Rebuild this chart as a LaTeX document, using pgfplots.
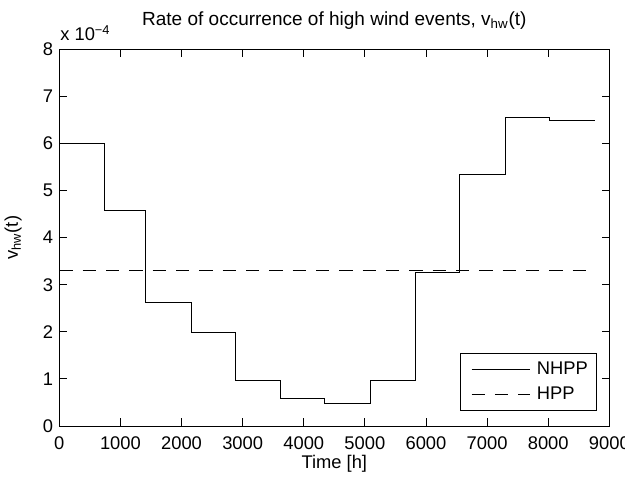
\documentclass[border=0pt]{standalone}
\usepackage{pgfplots}
\pgfplotsset{compat=1.18}
\usepackage{fontspec}
\setmainfont{Liberation Sans}
\begin{document}
\fontsize{11}{13}\selectfont
\begin{tikzpicture}
\begin{axis}[
  name=ax,
  scale only axis,
  width=330pt, height=226pt,
  xmin=0, xmax=9000, ymin=0, ymax=8,
  xtick={0,1000,...,9000},
  ytick={0,1,...,8},
  tick align=inside,
  major tick length=4.5pt,
  /pgf/number format/assume math mode=true,
  /pgf/number format/set thousands separator={},
  scaled x ticks=false,
  tick label style={font=\fontsize{11}{13}\selectfont},
  xticklabel style={anchor=base, yshift=-14pt},
  yticklabel style={inner sep=3.6pt},
  xlabel={Time [h]},
  ylabel={v\textsubscript{hw}(t)},
  xlabel style={at={(axis description cs:0.5,0)}, anchor=base, inner sep=0pt, yshift=-25.4pt},
  ylabel style={at={(axis description cs:-0.0752,0.5)}, anchor=base, inner sep=0pt},
  title={Rate of occurrence of high wind events, v\textsubscript{hw}(t)},
  title style={at={(axis description cs:0.5,1)}, anchor=base, inner sep=0pt, yshift=8.5pt, font=\fontsize{11.4}{13}\selectfont},
  axis line style={black, line width=0.5pt},
  every tick/.style={black, line width=0.5pt},
  legend style={at={(rel axis cs:0.977,0.04)}, anchor=south east,
    draw=black, line width=0.5pt, font=\fontsize{11}{13}\selectfont,
    inner xsep=5pt, inner ysep=5pt, row sep=6pt,
    nodes={inner sep=0pt}},
  legend cell align=left,
  legend image code/.code={\draw[#1] (1.6pt,0pt) -- (36.6pt,0pt); \path (0pt,0pt) (40.6pt,0pt);},
]
\addplot[const plot, black, line width=0.5pt] coordinates {
  (0,6.00) (744,4.58) (1416,2.62) (2160,1.98) (2880,0.97) (3624,0.59)
  (4344,0.48) (5088,0.96) (5832,3.26) (6552,5.34) (7296,6.55) (8016,6.48)
  (8760,6.48)
};
\addlegendentry{NHPP}
\addplot[black, line width=0.5pt, dash pattern=on 8pt off 6pt] coordinates {
  (0,3.30) (8760,3.30)
};
\addlegendentry{HPP}
\end{axis}
\node[anchor=base west, inner sep=0pt] at ([yshift=5.2pt, xshift=0.4pt]ax.north west) {x 10\textsuperscript{−4}};
\pgfresetboundingbox
\path[use as bounding box] ([shift={(-35.6pt,-30.6pt)}]ax.south west) rectangle ([shift={(9.4pt,29.6pt)}]ax.north east);
\end{tikzpicture}
\end{document}
